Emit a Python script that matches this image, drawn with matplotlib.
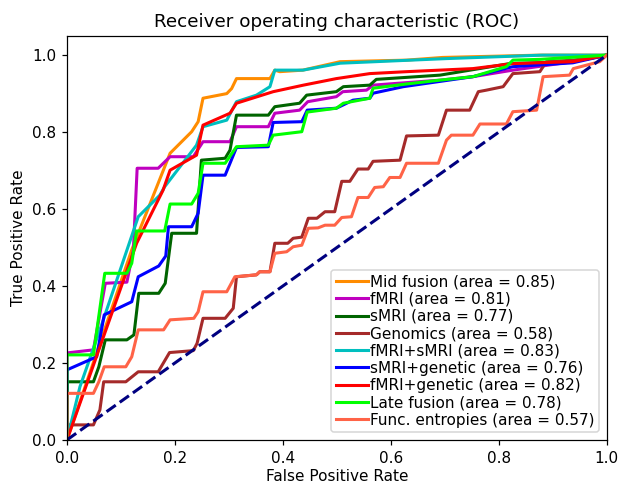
import matplotlib
matplotlib.use("Agg")
import matplotlib.pyplot as plt

# ROC points (fpr, tpr)
mid_fpr = [0.0, 0.12, 0.191, 0.231, 0.243, 0.252, 0.296, 0.305, 0.314, 0.376, 0.385, 0.394, 0.437, 0.506, 0.629, 0.696, 0.876, 1.0]
mid_tpr = [0.0, 0.494, 0.745, 0.801, 0.827, 0.888, 0.900, 0.913, 0.939, 0.939, 0.961, 0.957, 0.961, 0.983, 0.987, 0.994, 1.0, 1.0]

fmri_fpr = [0.0, 0.0, 0.049, 0.071, 0.111, 0.123, 0.130, 0.169, 0.191, 0.234, 0.252, 0.302, 0.314, 0.373, 0.385, 0.431, 0.446, 0.499, 0.511, 0.555, 0.567, 0.691, 0.752, 0.826, 0.937, 1.0]
fmri_tpr = [0.0, 0.226, 0.234, 0.407, 0.410, 0.494, 0.706, 0.706, 0.736, 0.736, 0.775, 0.775, 0.814, 0.814, 0.849, 0.857, 0.879, 0.892, 0.905, 0.909, 0.922, 0.935, 0.944, 0.961, 0.983, 1.0]

smri_fpr = [0.0, 0.0, 0.049, 0.059, 0.071, 0.111, 0.124, 0.133, 0.170, 0.182, 0.194, 0.240, 0.249, 0.293, 0.302, 0.314, 0.373, 0.385, 0.431, 0.444, 0.499, 0.512, 0.561, 0.573, 0.691, 0.820, 0.937, 1.0]
smri_tpr = [0.0, 0.151, 0.151, 0.190, 0.260, 0.260, 0.273, 0.381, 0.381, 0.407, 0.537, 0.537, 0.727, 0.732, 0.753, 0.844, 0.844, 0.866, 0.875, 0.896, 0.905, 0.918, 0.922, 0.937, 0.948, 0.978, 0.983, 1.0]

gen_fpr = [0.0, 0.0, 0.049, 0.061, 0.068, 0.109, 0.132, 0.169, 0.190, 0.234, 0.241, 0.252, 0.293, 0.308, 0.314, 0.351, 0.357, 0.376, 0.385, 0.409, 0.419, 0.435, 0.447, 0.463, 0.478, 0.496, 0.509, 0.524, 0.539, 0.558, 0.567, 0.617, 0.629, 0.688, 0.703, 0.746, 0.762, 0.777, 0.808, 0.826, 0.876, 0.888, 0.938, 1.0]
gen_tpr = [0.0, 0.039, 0.039, 0.078, 0.151, 0.151, 0.177, 0.177, 0.227, 0.232, 0.251, 0.316, 0.316, 0.342, 0.424, 0.429, 0.437, 0.437, 0.511, 0.511, 0.524, 0.527, 0.576, 0.576, 0.593, 0.593, 0.672, 0.672, 0.704, 0.704, 0.724, 0.727, 0.790, 0.792, 0.857, 0.857, 0.905, 0.909, 0.918, 0.952, 0.957, 0.983, 0.987, 1.0]

fs_fpr = [0.0, 0.024, 0.061, 0.132, 0.172, 0.181, 0.240, 0.252, 0.296, 0.314, 0.351, 0.376, 0.385, 0.437, 0.506, 0.703, 0.881, 1.0]
fs_tpr = [0.0, 0.138, 0.286, 0.580, 0.636, 0.658, 0.766, 0.814, 0.831, 0.879, 0.896, 0.918, 0.961, 0.961, 0.979, 0.991, 1.0, 1.0]

sg_fpr = [0.0, 0.0, 0.055, 0.069, 0.120, 0.132, 0.170, 0.183, 0.188, 0.231, 0.243, 0.252, 0.293, 0.314, 0.373, 0.382, 0.435, 0.445, 0.499, 0.530, 0.561, 0.567, 0.623, 0.752, 0.826, 0.937, 1.0]
sg_tpr = [0.0, 0.182, 0.216, 0.325, 0.359, 0.424, 0.452, 0.478, 0.554, 0.554, 0.589, 0.688, 0.688, 0.760, 0.762, 0.825, 0.827, 0.857, 0.862, 0.883, 0.888, 0.901, 0.918, 0.944, 0.970, 0.980, 1.0]

fg_fpr = [0.0, 0.129, 0.178, 0.191, 0.240, 0.252, 0.302, 0.314, 0.382, 0.438, 0.499, 0.561, 0.629, 0.752, 0.826, 0.937, 1.0]
fg_tpr = [0.0, 0.511, 0.649, 0.701, 0.740, 0.818, 0.849, 0.875, 0.905, 0.922, 0.939, 0.952, 0.957, 0.965, 0.978, 0.983, 1.0]

late_fpr = [0.0, 0.0, 0.049, 0.070, 0.111, 0.120, 0.129, 0.181, 0.191, 0.231, 0.243, 0.252, 0.293, 0.314, 0.373, 0.382, 0.435, 0.445, 0.499, 0.512, 0.561, 0.567, 0.629, 0.691, 0.752, 0.814, 0.826, 0.876, 1.0]
late_tpr = [0.0, 0.221, 0.221, 0.433, 0.433, 0.459, 0.543, 0.543, 0.613, 0.613, 0.641, 0.719, 0.719, 0.762, 0.766, 0.792, 0.801, 0.852, 0.862, 0.875, 0.888, 0.914, 0.925, 0.935, 0.944, 0.970, 0.987, 0.989, 1.0]

ent_fpr = [0.0, 0.0, 0.049, 0.059, 0.069, 0.109, 0.120, 0.132, 0.179, 0.191, 0.235, 0.243, 0.252, 0.296, 0.311, 0.351, 0.357, 0.376, 0.385, 0.407, 0.419, 0.435, 0.447, 0.465, 0.478, 0.496, 0.509, 0.527, 0.539, 0.558, 0.570, 0.586, 0.598, 0.617, 0.629, 0.688, 0.703, 0.712, 0.752, 0.765, 0.814, 0.826, 0.870, 0.882, 0.931, 0.938, 0.987, 1.0]
ent_tpr = [0.0, 0.121, 0.121, 0.151, 0.190, 0.190, 0.216, 0.286, 0.286, 0.312, 0.316, 0.333, 0.385, 0.385, 0.424, 0.429, 0.437, 0.437, 0.485, 0.489, 0.502, 0.506, 0.550, 0.551, 0.558, 0.558, 0.578, 0.580, 0.630, 0.630, 0.656, 0.658, 0.682, 0.682, 0.719, 0.719, 0.779, 0.792, 0.792, 0.821, 0.821, 0.853, 0.857, 0.944, 0.948, 0.965, 0.983, 1.0]

names = ["Mid fusion", "fMRI", "sMRI", "Genomics", "fMRI+sMRI",
         "sMRI+genetic", "fMRI+genetic", "Late fusion", "Func. entropies"]
aucs = [0.85, 0.81, 0.77, 0.58, 0.83, 0.76, 0.82, 0.78, 0.57]
colors = ["darkorange", "m", "darkgreen", "brown", "c", "b", "r", "lime", "tomato"]

fprs = [mid_fpr, fmri_fpr, smri_fpr, gen_fpr, fs_fpr, sg_fpr, fg_fpr, late_fpr, ent_fpr]
tprs = [mid_tpr, fmri_tpr, smri_tpr, gen_tpr, fs_tpr, sg_tpr, fg_tpr, late_tpr, ent_tpr]

dpi = 110
fig = plt.figure(figsize=(623 / dpi, 485 / dpi), dpi=dpi)
ax = fig.add_subplot(111)
fig.subplots_adjust(left=0.1075, right=0.974, bottom=0.093, top=0.926)

for i in range(len(names)):
    ax.plot(fprs[i], tprs[i], color=colors[i], lw=2,
            label="%s (area = %0.2f)" % (names[i], aucs[i]))

ax.plot([0, 1], [0, 1], color="navy", lw=2, linestyle="--")
ax.set_xlim([0.0, 1.0])
ax.set_ylim([0.0, 1.05])
ax.set_xlabel("False Positive Rate", labelpad=2)
ax.set_ylabel("True Positive Rate")
ax.set_title("Receiver operating characteristic (ROC)")
ax.legend(loc="lower right", labelspacing=0.15, handlelength=2.1,
          handletextpad=0.15, borderpad=0.3)

fig.savefig("out.png", dpi=dpi)
